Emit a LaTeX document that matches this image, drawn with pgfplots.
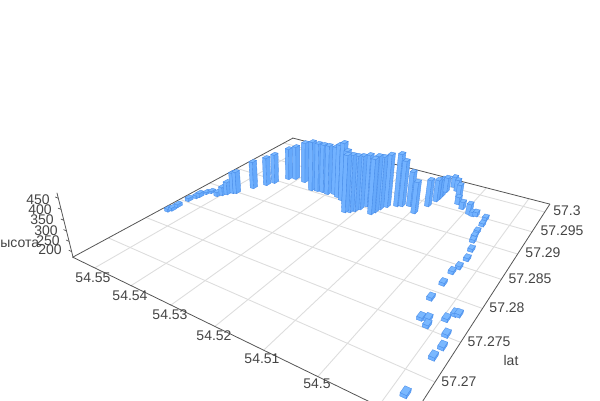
\documentclass[border=0pt]{standalone}
\usepackage{pgfplots}
\usepackage{pgfplotstable}
\pgfplotsset{compat=1.18}
\usepackage{fontspec}
\setmainfont{Liberation Sans}

% route samples, far ones first: lon lat height
\pgfplotstableread{
lon lat h
54.5548 57.2775 189
54.5544 57.2779 189
54.5545 57.2788 189
54.5545 57.2805 190
54.5540 57.2815 190
54.5538 57.2819 195
54.5535 57.2829 184
54.5529 57.2834 184
54.5507 57.2832 196
54.5500 57.2837 218
54.5494 57.2842 240
54.5486 57.2848 285
54.5480 57.2850 290
54.5463 57.2871 319
54.5447 57.2886 325
54.5438 57.2896 332
54.5422 57.2914 344
54.5408 57.2919 355
54.5380 57.2918 392
54.5342 57.2905 435
54.5328 57.2907 430
54.5315 57.2908 429
54.5300 57.2907 433
54.5286 57.2911 428
54.5272 57.2907 452
54.5257 57.2903 475
54.5241 57.2897 452
54.5139 57.2925 446
54.5130 57.2928 411
54.5115 57.2933 355
54.5156 57.2917 446
54.5195 57.2906 441
54.5201 57.2896 449
54.5164 57.2908 445
54.5206 57.2889 458
54.5213 57.2884 467
54.5222 57.2881 467
54.5167 57.2899 462
54.5170 57.2893 456
54.5093 57.2921 337
54.5074 57.2976 268
54.5074 57.2967 278
54.5075 57.2960 288
54.5081 57.2944 313
54.5068 57.3005 230
54.5074 57.2988 252
54.5054 57.2997 235
54.5039 57.2984 240
54.5028 57.2967 212
54.5012 57.2959 211
54.4991 57.2952 227
54.4982 57.2950 195
54.4975 57.2952 195
54.4952 57.2949 189
54.4949 57.2935 189
54.4948 57.2918 189
54.4946 57.2907 189
54.4943 57.2899 188
54.4934 57.2882 188
54.4929 57.2864 188
54.4932 57.2847 188
54.4937 57.2836 188
54.4937 57.2815 187
54.4938 57.2789 187
54.4887 57.2780 187
54.4881 57.2781 187
54.4930 57.2760 187
54.4919 57.2762 187
54.4894 57.2770 187
54.4914 57.2754 187
54.4879 57.2752 187
54.4873 57.2737 187
54.4876 57.2723 187
54.4879 57.2678 187
}\bars

\definecolor{txt}{HTML}{444444}
\definecolor{gridc}{HTML}{DDDDDD}
\definecolor{boxc}{HTML}{555555}
\definecolor{sidea}{HTML}{72B2FF}
\definecolor{sideb}{HTML}{66A9FB}
\definecolor{topc}{HTML}{7AB8FF}
\definecolor{edgec}{HTML}{4A8EEA}

% perspective of the reference view
\pgfmathdeclarefunction{px}{3}{\pgfmathparse{(211.46*#1+360.08*#2+73-19.74*#3)/(1-.3062*#1+.47809*#2-.0658*#3)}}
\pgfmathdeclarefunction{py}{3}{\pgfmathparse{(35.09*#1-53.02*#2+257-76.66*#3)/(1-.3062*#1+.47809*#2-.0658*#3)}}

\newcommand{\pt}[4]{% name s t z
  \pgfmathsetmacro\tmpx{px(#2,#3,#4)}\pgfmathsetmacro\tmpy{py(#2,#3,#4)}%
  \expandafter\xdef\csname #1\endcsname{(\tmpx,\tmpy)}}

\newcommand{\floorline}[5]{% style lon lat lon lat
  \pgfmathsetmacro\sa{.0915+(54.55-#2)*14.04}\pgfmathsetmacro\ta{.1147+(#3-57.27)*27.47}%
  \pgfmathsetmacro\sb{.0915+(54.55-#4)*14.04}\pgfmathsetmacro\tb{.1147+(#5-57.27)*27.47}%
  \pt{Pa}{\sa}{\ta}{0}\pt{Pb}{\sb}{\tb}{0}%
  \edef\tmp{\noexpand\addplot[#1] coordinates {\Pa \Pb};}\tmp}

\newcommand{\tower}[3]{% lon lat height
  \pgfmathsetmacro\sc{.0915+(54.55-#1)*14.04}\pgfmathsetmacro\tc{.1147+(#2-57.27)*27.47}%
  \pgfmathsetmacro\zc{(#3-173)/300}%
  \pgfmathsetmacro\sl{\sc-.007}\pgfmathsetmacro\sr{\sc+.007}%
  \pgfmathsetmacro\tl{\tc-.0105}\pgfmathsetmacro\tr{\tc+.0105}%
  \pt{Nb}{\sr}{\tl}{0}\pt{Lb}{\sl}{\tl}{0}\pt{Rb}{\sr}{\tr}{0}%
  \pt{Nt}{\sr}{\tl}{\zc}\pt{Lt}{\sl}{\tl}{\zc}\pt{Rt}{\sr}{\tr}{\zc}\pt{Ft}{\sl}{\tr}{\zc}%
  \edef\tmp{\noexpand\addplot[fill=sidea,draw=edgec,line width=.35pt] coordinates {\Lb \Nb \Nt \Lt \Lb};
    \noexpand\addplot[fill=sideb,draw=edgec,line width=.35pt] coordinates {\Nb \Rb \Rt \Nt \Nb};
    \noexpand\addplot[fill=topc,draw=edgec,line width=.35pt] coordinates {\Lt \Nt \Rt \Ft \Lt};}\tmp}

\begin{document}
\begin{tikzpicture}
\useasboundingbox (0,0) rectangle (600pt,400pt);
\clip (0,0) rectangle (600pt,400pt);
\begin{axis}[at={(0,0)},anchor=south west,scale only axis,width=600pt,height=400pt,
    hide axis,xmin=0,xmax=600,ymin=0,ymax=400,y dir=reverse,
    every axis plot/.append style={line cap=round}]
  % floor grid
  \foreach \lo in {54.49,54.5,54.51,54.52,54.53,54.54,54.55}
    {\floorline{gridc,line width=.9pt}{\lo}{57.2658}{\lo}{57.3022}}
  \foreach \la in {57.27,57.275,57.28,57.285,57.29,57.295,57.3}
    {\floorline{gridc,line width=.9pt}{54.5565}{\la}{54.4853}{\la}}
  % floor outline
  \floorline{boxc,line width=.8pt}{54.5565}{57.2658}{54.5565}{57.3022}
  \floorline{boxc,line width=.8pt}{54.5565}{57.3022}{54.4853}{57.3022}
  \floorline{boxc,line width=.8pt}{54.5565}{57.2658}{54.4853}{57.2658}
  \floorline{boxc,line width=.8pt}{54.4853}{57.2658}{54.4853}{57.3022}
  % height axis and its ticks
  \pt{Pa}{0}{0}{0}\pt{Pb}{0}{0}{1}
  \edef\tmp{\noexpand\addplot[boxc,line width=.8pt] coordinates {\Pa \Pb};}\tmp
  \foreach \hh in {200,250,300,350,400,450}{
    \pgfmathsetmacro\zt{(\hh-173)/300}
    \pt{Pa}{0}{0}{\zt}\pt{Pb}{-.012}{0}{\zt}
    \edef\tmp{\noexpand\addplot[boxc,line width=.7pt] coordinates {\Pa \Pb};}\tmp
  }
  % bars
  \pgfplotstablegetrowsof{\bars}\pgfmathtruncatemacro\last{\pgfplotsretval-1}
  \foreach \i in {0,...,\last}{
    \pgfplotstablegetelem{\i}{lon}\of\bars\let\blon\pgfplotsretval
    \pgfplotstablegetelem{\i}{lat}\of\bars\let\blat\pgfplotsretval
    \pgfplotstablegetelem{\i}{h}\of\bars\let\bh\pgfplotsretval
    \tower{\blon}{\blat}{\bh}
  }
  % labels
  \foreach \x/\y/\t in {93/278/54.55,130/296/54.54,170/315/54.53,214/336/54.52,262/359/54.51,317/384/54.5,
      567/211/57.3,562/231/57.295,543/253/57.29,530/279/57.285,507/308/57.28,489/342/57.275,459/382/57.27,
      511/360/lat,38/200/450,40/210/400,42/220/350,46/231/300,48/241/250,50/250/200,16/244/высота}{
    \edef\tmp{\noexpand\node[inner sep=0pt,text=txt,font=\noexpand\fontsize{14}{16}\noexpand\selectfont] at (axis cs:\x,\y) {\t};}\tmp
  }
\end{axis}
\end{tikzpicture}
\end{document}
